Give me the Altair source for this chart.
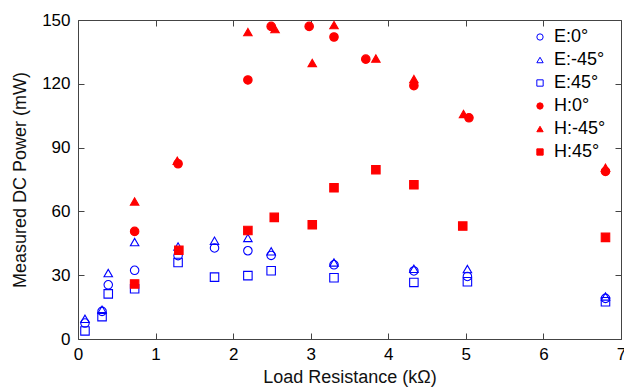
import altair as alt
import pandas as pd

# ---- data ----
series_names = ["E:0°", "E:-45°", "E:45°", "H:0°", "H:-45°", "H:45°"]

e_x = [0.09, 0.31, 0.39, 0.73, 1.29, 1.76, 2.19, 2.49, 3.30, 4.33, 5.02, 6.80]
e0_y = [7.5, 13.0, 25.5, 32.3, 39.2, 42.8, 41.5, 39.3, 34.9, 32.0, 29.4, 19.1]
em45_y = [9.5, 13.8, 31.0, 45.6, 43.5, 46.2, 47.5, 41.2, 36.0, 33.0, 32.9, 20.0]
e45_y = [3.8, 10.5, 21.2, 23.6, 36.0, 29.1, 29.8, 32.1, 28.8, 26.6, 26.9, 17.5]

h0_x = [0.73, 1.29, 2.19, 2.49, 2.98, 3.30, 3.71, 4.33, 5.04, 6.80]
h0_y = [50.6, 82.4, 121.8, 147.0, 147.0, 142.0, 131.6, 119.1, 104.0, 78.8]
hm45_x = [0.73, 1.28, 2.19, 2.54, 3.02, 3.30, 3.84, 4.33, 4.97, 6.80]
hm45_y = [64.7, 83.8, 144.3, 145.7, 129.8, 147.6, 131.9, 122.2, 105.8, 80.5]
h45_x = [0.73, 1.30, 2.19, 2.53, 3.02, 3.30, 3.84, 4.33, 4.96, 6.80]
h45_y = [25.9, 41.7, 51.0, 57.2, 53.7, 71.1, 79.6, 72.5, 53.1, 47.8]

x_ticks = [0, 1, 2, 3, 4, 5, 6, 7]
y_ticks = [0, 30, 60, 90, 120, 150]

# ---- build table ----
rows = []
for name, xs, ys in [
    (series_names[0], e_x, e0_y),
    (series_names[1], e_x, em45_y),
    (series_names[2], e_x, e45_y),
    (series_names[3], h0_x, h0_y),
    (series_names[4], hm45_x, hm45_y),
    (series_names[5], h45_x, h45_y),
]:
    for xv, yv in zip(xs, ys):
        rows.append({"R": xv, "P": yv, "series": name})
df = pd.DataFrame(rows)

FONT = "Liberation Sans"
FRAME = "#444444"
BLUE = "#0000FF"
RED = "#FF0000"
TL = 6

xscale = alt.Scale(domain=[0, 7], nice=False, zero=False)
yscale = alt.Scale(domain=[0, 150], nice=False, zero=False)

points = alt.Chart(df).mark_point(size=72, strokeWidth=1.1, opacity=1).encode(
    x=alt.X("R:Q", scale=xscale,
            axis=alt.Axis(title="Load Resistance (kΩ)", values=x_ticks, format="d",
                          tickSize=TL, offset=-TL, domain=False, tickColor=FRAME,
                          labelFlush=False, labelOverlap=False, labelPadding=7,
                          titlePadding=6, grid=False)),
    y=alt.Y("P:Q", scale=yscale,
            axis=alt.Axis(title="Measured DC Power (mW)", values=y_ticks, format="d",
                          tickSize=TL, offset=-TL, domain=False, tickColor=FRAME,
                          labelFlush=False, labelOverlap=False, labelPadding=8,
                          titlePadding=12, grid=False)),
    shape=alt.Shape("series:N", scale=alt.Scale(
        domain=series_names,
        range=["circle", "triangle-up", "square", "circle", "triangle-up", "square"]),
        legend=alt.Legend(title=None, orient="none", legendX=453, legendY=8,
                          labelFontSize=18, labelFont=FONT, labelColor="black",
                          symbolSize=40, rowPadding=5, labelOffset=5,
                          symbolStrokeWidth=1)),
    stroke=alt.Stroke("series:N", scale=alt.Scale(
        domain=series_names, range=[BLUE, BLUE, BLUE, RED, RED, RED]), legend=None),
    fill=alt.Fill("series:N", scale=alt.Scale(
        domain=series_names,
        range=["transparent", "transparent", "transparent", RED, RED, RED]), legend=None),
)

# invisible layer that only carries the top/right inner-tick axes
frame_axes = alt.Chart(df).mark_point(opacity=0, size=1).encode(
    x=alt.X("R:Q", scale=xscale,
            axis=alt.Axis(orient="top", title=None, values=x_ticks, labels=False,
                          tickSize=TL, offset=-TL, domain=False, tickColor=FRAME,
                          grid=False)),
    y=alt.Y("P:Q", scale=yscale,
            axis=alt.Axis(orient="right", title=None, values=y_ticks, labels=False,
                          tickSize=TL, offset=-TL, domain=False, tickColor=FRAME,
                          grid=False)),
)

chart = alt.layer(frame_axes, points).resolve_axis(
    x="independent", y="independent"
).properties(
    width=543, height=319,
    autosize=alt.AutoSizeParams(type="none"),
    padding={"left": 78, "top": 20, "right": 3, "bottom": 52},
    background="white",
).configure_view(
    stroke=FRAME, strokeWidth=1
).configure_axis(
    labelFont=FONT, titleFont=FONT, labelFontSize=17, titleFontSize=18,
    labelColor="black", titleColor="#111111", titleFontWeight="normal",
)

chart.save("out.html", embed_options={"renderer": "svg", "actions": False})
